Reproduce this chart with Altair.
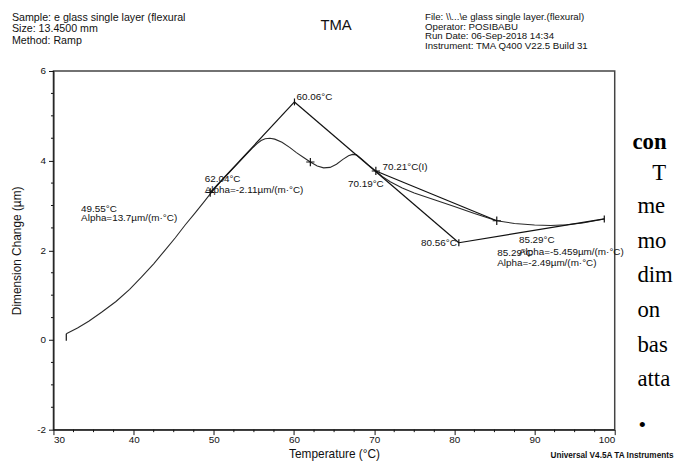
import altair as alt
import pandas as pd

# ---------------- data ----------------
curve_T = [31.6, 33.0, 34.4, 36.0, 37.8, 39.5, 41.0, 42.5, 43.9, 45.2, 46.4, 47.7,
           48.9, 49.6, 50.8, 52.0, 53.0, 54.0, 54.8, 55.4, 55.9, 56.4, 57.0, 57.6,
           58.5, 59.5, 60.3, 61.2, 62.04, 62.9, 63.7, 64.5, 65.3, 66.1, 66.8, 67.3,
           67.8, 68.5, 69.3, 70.2, 71.0, 72.0, 73.5, 75.0, 77.5, 80.0, 82.5, 85.29,
           87.5, 90.0, 92.0, 94.0, 96.0, 98.7]
curve_v = [0.14, 0.27, 0.42, 0.62, 0.86, 1.13, 1.41, 1.70, 2.00, 2.28, 2.56, 2.84,
           3.11, 3.27, 3.52, 3.75, 3.94, 4.13, 4.28, 4.38, 4.45, 4.49, 4.50, 4.48,
           4.41, 4.29, 4.18, 4.07, 3.97, 3.88, 3.84, 3.85, 3.92, 4.03, 4.11, 4.14,
           4.13, 4.03, 3.90, 3.77, 3.65, 3.53, 3.39, 3.28, 3.13, 2.98, 2.82, 2.66,
           2.60, 2.565, 2.555, 2.57, 2.61, 2.70]

# tangent construction lines
seg_T1 = [49.55, 60.06, 80.56, 70.21]
seg_v1 = [3.29, 5.31, 2.17, 3.77]
seg_T2 = [60.06, 80.56, 98.7, 85.29]
seg_v2 = [5.31, 2.17, 2.70, 2.66]

# cross markers and vertical tick markers
cross_T = [49.55, 62.04, 70.21, 85.29]
cross_v = [3.29, 3.97, 3.77, 2.66]
vtick_T = [60.06, 80.56, 98.7]
vtick_v = [5.31, 2.17, 2.70]
start_T = [31.6]
start_v = [0.14]

# annotation labels (anchored at data coordinates)
ann_text = ["60.06°C", "62.04°C", "Alpha=-2.11µm/(m·°C)", "49.55°C",
            "Alpha=13.7µm/(m·°C)", "70.21°C(I)", "70.19°C", "80.56°C",
            "85.29°C", "Alpha=-5.459µm/(m·°C)", "85.29°C", "Alpha=-2.49µm/(m·°C)"]
ann_T = [60.32, 48.86, 48.86, 33.45, 33.45, 71.04, 66.73, 75.85, 88.05, 88.05, 85.34, 85.34]
ann_v = [5.42, 3.59, 3.35, 2.93, 2.71, 3.86, 3.48, 2.16, 2.23, 1.96, 1.94, 1.72]

x_major = [30, 40, 50, 60, 70, 80, 90, 100]
x_minor = [32.5, 35, 37.5, 42.5, 45, 47.5, 52.5, 55, 57.5, 62.5, 65, 67.5,
           72.5, 75, 77.5, 82.5, 85, 87.5, 92.5, 95, 97.5]
y_major = [-2, 0, 2, 4, 6]
y_minor = [-1.5, -1, -0.5, 0.5, 1, 1.5, 2.5, 3, 3.5, 4.5, 5, 5.5]

header_left = ["Sample: e glass single layer  (flexural", "Size:  13.4500 mm", "Method: Ramp"]
header_mid = "TMA"
header_right = ["File: \\\\...\\e glass single layer.(flexural)", "Operator: POSIBABU",
                "Run Date: 06-Sep-2018 14:34", "Instrument: TMA Q400 V22.5 Build 31"]
footer = "Universal V4.5A TA Instruments"
side_text = ["con", "T", "me", "mo", "dim", "on", "bas", "atta", "•"]

FONT = "Liberation Sans"
SERIF = "Liberation Serif"
W, H = 568, 363
xs = alt.Scale(domain=[30, 100], nice=False, zero=False)
ys = alt.Scale(domain=[-2, 6], nice=False, zero=False)

x_axis = alt.Axis(title="Temperature (°C)", values=x_major, orient="bottom",
                  tickSize=5, labelPadding=0, grid=False, domainColor="#111",
                  tickColor="#111", labelFontSize=10, titleFontSize=12,
                  titleFontWeight="normal", titlePadding=4, labelColor="#111",
                  titleColor="#111", labelFont=FONT, titleFont=FONT,
                  labelExpr="datum.value + ''")
y_axis = alt.Axis(title="Dimension Change (µm)", values=y_major, orient="left",
                  tickSize=5, labelPadding=3, grid=False, domainColor="#111",
                  tickColor="#111", labelFontSize=10, titleFontSize=12,
                  titleFontWeight="normal", titlePadding=13, labelColor="#111",
                  titleColor="#111", labelFont=FONT, titleFont=FONT,
                  labelExpr="datum.value + ''")

curve_df = pd.DataFrame({"T": curve_T, "v": curve_v})
seg_df = pd.DataFrame({"T": seg_T1, "v": seg_v1, "T2": seg_T2, "v2": seg_v2})
cross_df = pd.DataFrame({"T": cross_T, "v": cross_v})
vtick_df = pd.DataFrame({"T": vtick_T, "v": vtick_v})
start_df = pd.DataFrame({"T": start_T, "v": start_v})
ann_df = pd.DataFrame({"T": ann_T, "v": ann_v, "label": ann_text})

curve = alt.Chart(curve_df).mark_line(color="#2a2a2a", strokeWidth=1.1, clip=False).encode(
    x=alt.X("T:Q", scale=xs, axis=x_axis),
    y=alt.Y("v:Q", scale=ys, axis=y_axis),
    order="T:Q",
)

# minor ticks, placed through the same scales as the axes
minor_x = alt.Chart(pd.DataFrame({"T": x_minor})).mark_rule(color="#111", strokeWidth=1).encode(
    x=alt.X("T:Q", scale=xs, axis=None), y=alt.value(H), y2=alt.value(H + 2.5))
minor_y = alt.Chart(pd.DataFrame({"v": y_minor})).mark_rule(color="#111", strokeWidth=1).encode(
    y=alt.Y("v:Q", scale=ys, axis=None), x=alt.value(0), x2=alt.value(-2.5))

segs = alt.Chart(seg_df).mark_rule(color="#111", strokeWidth=1.2).encode(
    x=alt.X("T:Q", scale=xs, axis=None),
    y=alt.Y("v:Q", scale=ys, axis=None),
    x2="T2:Q", y2="v2:Q",
)

crosses = alt.Chart(cross_df).mark_point(shape="M-1,0L1,0M0,-1L0,1", size=70, filled=False,
                                         color="#111", strokeWidth=1.2, opacity=1).encode(
    x=alt.X("T:Q", scale=xs, axis=None), y=alt.Y("v:Q", scale=ys, axis=None))

vticks = alt.Chart(vtick_df).mark_point(shape="M0,-1L0,1", size=49, filled=False,
                                        color="#111", strokeWidth=1.2, opacity=1).encode(
    x=alt.X("T:Q", scale=xs, axis=None), y=alt.Y("v:Q", scale=ys, axis=None))

start = alt.Chart(start_df).mark_point(shape="M0,0L0,1", size=196, filled=False,
                                       color="#111", strokeWidth=1.2, opacity=1).encode(
    x=alt.X("T:Q", scale=xs, axis=None), y=alt.Y("v:Q", scale=ys, axis=None))

ann = alt.Chart(ann_df).mark_text(align="left", baseline="middle", font=FONT, fontSize=10,
                                  color="#111").encode(
    x=alt.X("T:Q", scale=xs, axis=None), y=alt.Y("v:Q", scale=ys, axis=None), text="label:N")


def label(txt, px, py, size=9, weight="normal", align="left", font=FONT,
          baseline="middle", color="#111"):
    return alt.Chart(pd.DataFrame({"k": [0]})).mark_text(
        align=align, baseline=baseline, font=font, fontSize=size, fontWeight=weight,
        color=color).encode(x=alt.value(px), y=alt.value(py), text=alt.value(txt))


texts = []
for i, t in enumerate(header_left):
    texts.append(label(t, -42, -53.5 + 11.5 * i, size=10.8))
texts.append(label(header_mid, 286, -46, size=15, align="center"))
for i, t in enumerate(header_right):
    texts.append(label(t, 376, -54.5 + 9.6 * i, size=9.8))
texts.append(label(footer, 503, 390, size=8.3, weight="bold"))

side_pos = [(586, 79), (606, 110), (591, 144), (591, 179), (591, 214), (591, 249),
            (591, 284), (591, 319)]
for i, (px, py) in enumerate(side_pos):
    texts.append(label(side_text[i], px, py, size=23, font=SERIF, baseline="alphabetic",
                       weight="bold" if i == 0 else "normal", color="#000"))
texts.append(label(side_text[8], 596, 358, size=22, font=SERIF, align="center", color="#000"))

chart = alt.layer(curve, minor_x, minor_y, segs, crosses, vticks, start, ann, *texts).resolve_axis(
    x="independent", y="independent"
).properties(
    width=W, height=H,
    padding={"left": 46, "top": 61, "right": 60, "bottom": 34},
    autosize=alt.AutoSizeParams(type="none"),
    background="white",
).configure_view(stroke="#444", strokeWidth=1.5)

chart.save("out.html", embed_options={"renderer": "svg", "actions": False})
